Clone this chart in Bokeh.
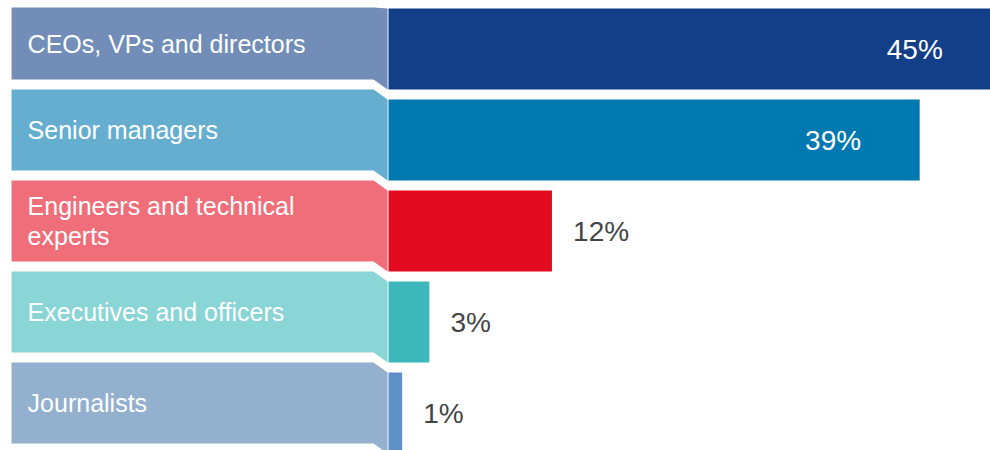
from bokeh.plotting import figure
from bokeh.models import Range1d, ColumnDataSource
from bokeh.core.properties import value
from bokeh.embed import file_html
from bokeh.resources import INLINE

# ---- data ----
categories = ["CEOs, VPs and directors", "Senior managers",
              "Engineers and technical\nexperts", "Executives and officers", "Journalists"]
shares = [45, 39, 12, 3, 1]
panel_colors = ["#718DB8", "#66AED0", "#F06E79", "#8AD5D5", "#93B0CF"]
bar_colors = ["#123F88", "#0078B0", "#E30B1F", "#3CB8BA", "#5F8FC7"]
value_labels = [f"{v}%" for v in shares]

# ---- figure ----
p = figure(width=990, height=450, output_backend="svg", toolbar_location=None,
           x_range=Range1d(-28.49, 44.2), y_range=Range1d(4.412, -0.533),
           min_border=0)
p.axis.visible = False
p.grid.visible = False
p.outline_line_color = None
p.background_fill_color = "white"
p.border_fill_color = "white"

rows = list(range(len(categories)))
half = 0.445
off = 0.11
xl, xs_, xr = -27.68, -1.1, -0.07

# left label panels (slanted connector toward the bars)
pxs, pys, label_y = [], [], []
for i in rows:
    top, bot = i - half, i + half
    top_left = top - off if i > 0 else top - 0.01
    pxs.append([xl, xs_, xr, xr, xs_, xl])
    pys.append([top_left, top_left, top, bot, bot - off, bot - off])
    label_y.append((top_left + bot - off) / 2)
p.patches(xs=pxs, ys=pys, fill_color=panel_colors, line_color=None)

# bars
src = ColumnDataSource(dict(y=rows, right=shares, color=bar_colors))
p.hbar(y="y", left=0, right="right", height=2 * half, fill_color="color",
       line_color=None, source=src)

# category labels
p.text(x=[-26.5] * len(rows), y=label_y, text=categories,
       text_color="white", text_font=value("Liberation Sans"),
       text_font_size="25px", text_baseline="middle", text_align="left",
       text_line_height=1.05)

# value labels
inside = [v > 20 for v in shares]
in_src = ColumnDataSource(dict(
    x=[v - 4.3 for v, f in zip(shares, inside) if f],
    y=[i + 0.01 for i, f in zip(rows, inside) if f],
    t=[t for t, f in zip(value_labels, inside) if f]))
out_src = ColumnDataSource(dict(
    x=[v + 1.55 for v, f in zip(shares, inside) if not f],
    y=[i + 0.01 for i, f in zip(rows, inside) if not f],
    t=[t for t, f in zip(value_labels, inside) if not f]))
p.text(x="x", y="y", text="t", source=in_src, text_color="white",
       text_font=value("Liberation Sans"), text_font_size="28px",
       text_baseline="middle", text_align="right")
p.text(x="x", y="y", text="t", source=out_src, text_color="#454545",
       text_font=value("Liberation Sans"), text_font_size="28px",
       text_baseline="middle", text_align="left")

open("out.html", "w").write(file_html(p, INLINE))
